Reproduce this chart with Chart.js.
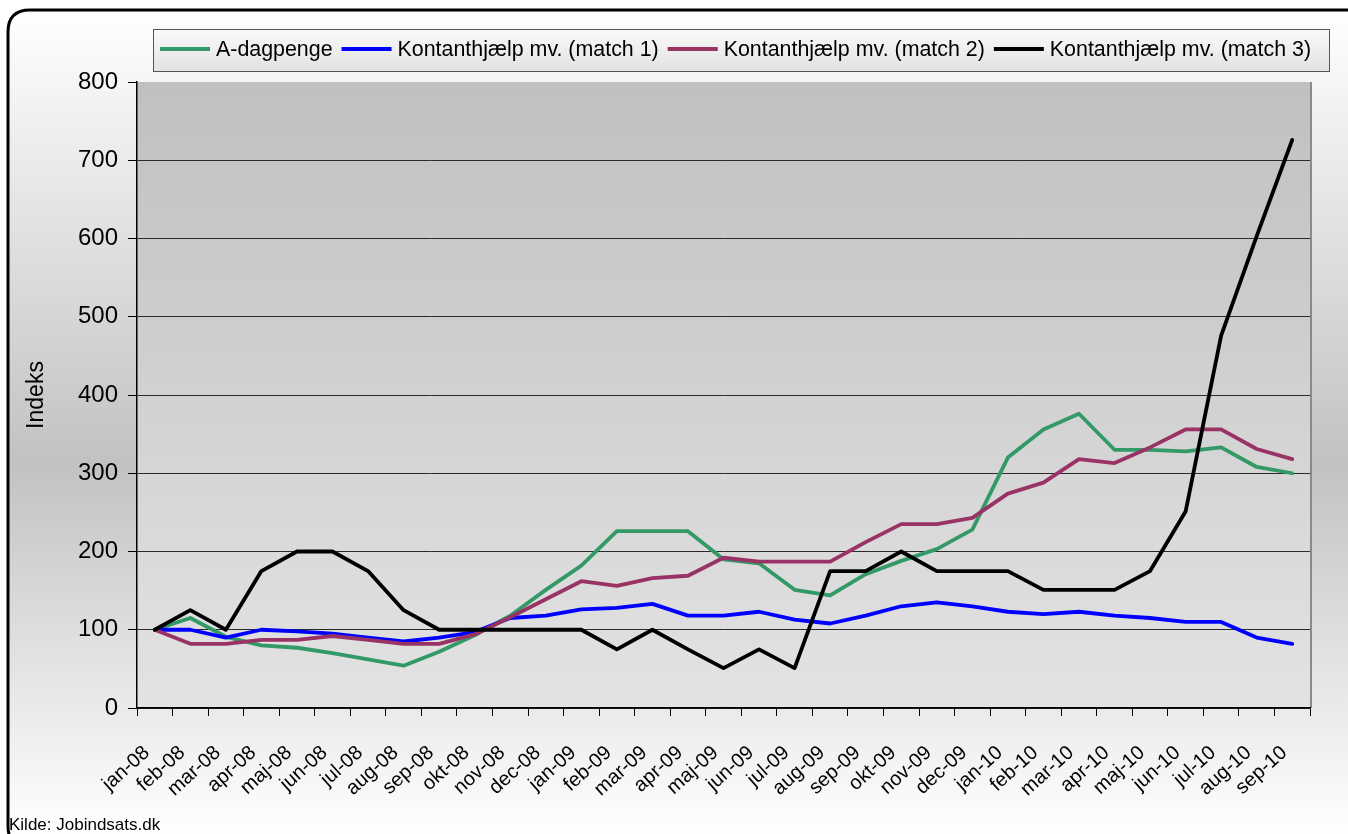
<!DOCTYPE html>
<html>
<head>
<meta charset="utf-8">
<script src="https://cdn.jsdelivr.net/npm/chart.js@4.4.0/dist/chart.umd.min.js"></script>
<style>
html, body { margin: 0; padding: 0; background: #fff; }
</style>
</head>
<body>
<canvas id="mychart" width="1348" height="834"></canvas>
<script>
// Data (index, jan-08 = 100)
var months = ["jan-08", "feb-08", "mar-08", "apr-08", "maj-08", "jun-08", "jul-08", "aug-08", "sep-08", "okt-08", "nov-08", "dec-08",
              "jan-09", "feb-09", "mar-09", "apr-09", "maj-09", "jun-09", "jul-09", "aug-09", "sep-09", "okt-09", "nov-09", "dec-09",
              "jan-10", "feb-10", "mar-10", "apr-10", "maj-10", "jun-10", "jul-10", "aug-10", "sep-10"];
var seriesNames = ["A-dagpenge", "Kontanthjælp mv. (match 1)", "Kontanthjælp mv. (match 2)", "Kontanthjælp mv. (match 3)"];
var aDagpenge = [100, 115, 91, 80, 77, 70, 62, 54, 72, 93, 118, 151, 182, 226, 226, 226, 190, 185, 151, 144, 171, 188, 203, 228,
                 320, 356, 376, 330, 330, 328, 333, 308, 300];
var match1 = [100, 100, 90, 100, 98, 95, 90, 85, 90, 97, 115, 118, 126, 128, 133, 118, 118, 123, 113, 108, 118, 130, 135, 130,
              123, 120, 123, 118, 115, 110, 110, 90, 82];
var match2 = [100, 82, 82, 87, 87, 92, 87, 82, 82, 94, 116, 139, 162, 156, 166, 169, 192, 187, 187, 187, 212, 235, 235, 243,
              274, 288, 318, 313, 333, 356, 356, 331, 318];
var match3 = [100, 125, 100, 175, 200, 200, 175, 125, 100, 100, 100, 100, 100, 75, 100, 75, 51, 75, 51, 175, 175, 200, 175, 175,
              175, 151, 151, 151, 175, 251, 476, 603, 726];
var colors = ["#339966", "#0000ff", "#993366", "#000000"];
var yTicks = [0, 100, 200, 300, 400, 500, 600, 700, 800];

var FONT = "'Liberation Sans', Arial, sans-serif";

function roundRect(ctx, x, y, w, h, r) {
    ctx.beginPath();
    ctx.moveTo(x + r, y);
    ctx.lineTo(x + w - r, y);
    ctx.quadraticCurveTo(x + w, y, x + w, y + r);
    ctx.lineTo(x + w, y + h - r);
    ctx.quadraticCurveTo(x + w, y + h, x + w - r, y + h);
    ctx.lineTo(x + r, y + h);
    ctx.quadraticCurveTo(x, y + h, x, y + h - r);
    ctx.lineTo(x, y + r);
    ctx.quadraticCurveTo(x, y, x + r, y);
    ctx.closePath();
}

// backgrounds, frame, legend box and source line
var decor = {
    id: "decor",
    beforeDraw: function(chart) {
        var ctx = chart.ctx;
        var area = chart.chartArea;
        ctx.save();
        ctx.fillStyle = "#ffffff";
        ctx.fillRect(0, 0, chart.width, chart.height);

        var g = ctx.createLinearGradient(0, 10, 0, 834);
        g.addColorStop(0, "#ffffff");
        g.addColorStop(0.55, "#c2c2c2");
        g.addColorStop(1, "#ffffff");
        roundRect(ctx, 8, 10, 1362, 838, 22);
        ctx.fillStyle = g;
        ctx.fill();
        ctx.lineWidth = 3;
        ctx.strokeStyle = "#000";
        ctx.stroke();

        var pg = ctx.createLinearGradient(0, area.top, 0, area.bottom);
        pg.addColorStop(0, "#c0c0c0");
        pg.addColorStop(1, "#e3e3e3");
        ctx.fillStyle = pg;
        ctx.fillRect(area.left, area.top, area.right - area.left, area.bottom - area.top);

        ctx.strokeStyle = "#8a8a8a";
        ctx.lineWidth = 2;
        ctx.beginPath();
        ctx.moveTo(area.right + 1, area.top);
        ctx.lineTo(area.right + 1, area.bottom);
        ctx.stroke();
        ctx.restore();
    },
    afterDraw: function(chart) {
        var ctx = chart.ctx;
        ctx.save();
        // legend
        var lg = ctx.createLinearGradient(0, 29, 0, 71);
        lg.addColorStop(0, "#fafafa");
        lg.addColorStop(1, "#e2e2e2");
        ctx.fillStyle = lg;
        ctx.fillRect(153, 29, 1176, 42);
        ctx.strokeStyle = "#555";
        ctx.lineWidth = 1;
        ctx.strokeRect(153.5, 29.5, 1176, 42);

        ctx.font = "21.4px " + FONT;
        ctx.textBaseline = "middle";
        ctx.textAlign = "left";
        var x = 160;
        var yc = 49;
        chart.data.datasets.forEach(function(ds) {
            ctx.strokeStyle = ds.borderColor;
            ctx.lineWidth = 4;
            ctx.lineCap = "butt";
            ctx.beginPath();
            ctx.moveTo(x, yc);
            ctx.lineTo(x + 50, yc);
            ctx.stroke();
            ctx.fillStyle = "#000";
            ctx.fillText(ds.label, x + 56, yc + 1);
            x = x + 56 + ctx.measureText(ds.label).width + 9;
        });

        // source
        ctx.font = "17px " + FONT;
        ctx.textBaseline = "alphabetic";
        ctx.fillStyle = "#000";
        ctx.fillText("Kilde: Jobindsats.dk", 9, 830);
        ctx.restore();
    }
};

window.addEventListener("load", function() {
    var canvas = document.getElementById("mychart").getContext("2d");
    var values = [aDagpenge, match1, match2, match3];

    var myChart = new Chart(canvas, {
        type: "line",
        data: {
            labels: months,
            datasets: values.map(function(v, i) {
                return {
                    label: seriesNames[i],
                    data: v,
                    borderColor: colors[i],
                    backgroundColor: colors[i],
                    borderWidth: 3.8,
                    borderJoinStyle: "round",
                    borderCapStyle: "round",
                    pointRadius: 0,
                    tension: 0,
                    fill: false,
                    order: 3 - i
                };
            })
        },
        options: {
            responsive: false,
            animation: false,
            devicePixelRatio: 1,
            layout: { padding: { top: 82, right: 38, left: 10, bottom: 0 } },
            plugins: {
                legend: { display: false },
                tooltip: { enabled: false }
            },
            scales: {
                x: {
                    offset: true,
                    border: { color: "#000", width: 1.5 },
                    grid: { drawOnChartArea: false, drawTicks: true, tickLength: 8, color: "#000", tickColor: "#000", offset: true },
                    ticks: {
                        color: "#000",
                        font: { family: FONT, size: 20 },
                        minRotation: 42,
                        maxRotation: 42,
                        autoSkip: false,
                        padding: 25,
                        labelOffset: -8
                    },
                    afterFit: function(scale) { scale.height = 126; }
                },
                y: {
                    min: 0,
                    max: 800,
                    border: { color: "#000", width: 1.5 },
                    grid: {
                        color: function(c) { return c.tick && c.tick.value === 800 ? "rgba(0,0,0,0)" : "#2a2a2a"; },
                        tickColor: "#000",
                        tickLength: 9,
                        lineWidth: 1
                    },
                    afterBuildTicks: function(scale) {
                        scale.ticks = yTicks.map(function(v) { return { value: v }; });
                    },
                    ticks: {
                        color: "#000",
                        font: { family: FONT, size: 24 },
                        padding: 10
                    },
                    title: {
                        display: true,
                        text: "Indeks",
                        color: "#000",
                        font: { family: FONT, size: 23 },
                        padding: { top: 13, bottom: 0 }
                    },
                    afterFit: function(scale) { scale.width = 127; }
                }
            }
        },
        plugins: [decor]
    });
});
</script>
</body>
</html>
